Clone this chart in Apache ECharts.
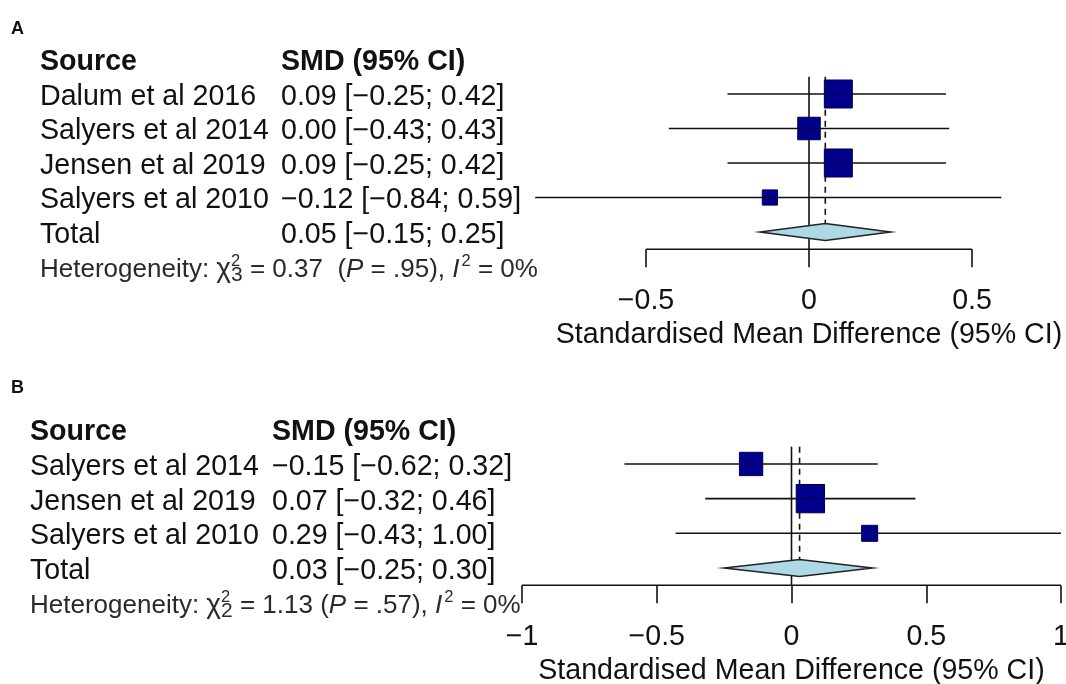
<!DOCTYPE html>
<html><head><meta charset="utf-8">
<script src="https://cdn.jsdelivr.net/npm/echarts@6/dist/echarts.min.js"></script>
<style>html,body{margin:0;padding:0;background:#fff}#c{width:1066px;height:684px}</style>
</head><body><div id="c"></div>
<script>
// ---------- Panel A data ----------
const studiesA = ['Dalum et al 2016', 'Salyers et al 2014', 'Jensen et al 2019', 'Salyers et al 2010'];
const smdA = [0.09, 0.00, 0.09, -0.12];
const lowerA = [-0.25, -0.43, -0.25, -0.84];
const upperA = [0.42, 0.43, 0.42, 0.59];
const weightA = [34, 22, 34, 10];
const totalA = [0.05, -0.15, 0.25];          // estimate, lower, upper
const hetA = ['3', '0.37', '.95', '0%'];       // df, chi2, P, I2
const ticksA = [-0.5, 0, 0.5];

// ---------- Panel B data ----------
const studiesB = ['Salyers et al 2014', 'Jensen et al 2019', 'Salyers et al 2010'];
const smdB = [-0.15, 0.07, 0.29];
const lowerB = [-0.62, -0.32, -0.43];
const upperB = [0.32, 0.46, 1.00];
const weightB = [34, 50, 16];
const totalB = [0.03, -0.25, 0.30];
const hetB = ['2', '1.13', '.57', '0%'];
const ticksB = [-1, -0.5, 0, 0.5, 1];

const headers = ['Source', 'SMD (95% CI)'];
const axisTitle = 'Standardised Mean Difference (95% CI)';
const panelLabels = ['A', 'B'];

// ---------- layout / style ----------
const FONT = '"Liberation Sans", Arial, Helvetica, sans-serif';
const INK = '#111';
const FS = 28.6;
const TEXT_DY = 3;
const layoutA = { rowH: 34.5, row0Y: 59.5, textLeft: 40, col2X: 281, zeroX: 809, unit: 326, xMin: -0.9, xMax: 0.7, maxSide: 28, labelTop: 20, hetGap: '\u00a0\u00a0' };
const layoutB = { rowH: 34.67, row0Y: 429.3, textLeft: 30, col2X: 272, zeroX: 791.5, unit: 269.5, xMin: -1, xMax: 1, maxSide: 28.3, labelTop: 379, hetGap: ' ' };

function fmt(v) { return (v < 0 ? '\u2212' : '') + Math.abs(v).toFixed(2); }
function ciText(e, l, u) { return fmt(e) + ' [' + fmt(l) + '; ' + fmt(u) + ']'; }
function tickFmt(v) { return (v < 0 ? '\u2212' : '') + String(Math.abs(v)); }

const option = {
  backgroundColor: '#fff',
  animation: false,
  title: [], grid: [], xAxis: [], yAxis: [], series: []
};

function addPanel(L, studies, smd, lo, hi, w, total, het, ticks, label) {
  const n = studies.length;
  const totalRow = n + 1, hetRow = n + 2, axisRow = n + 1.5;
  const gi = option.grid.length;      // text grid index
  const pi = gi + 1;                  // plot grid index

  option.title.push({ text: label, left: 11, top: L.labelTop, padding: 0,
    textStyle: { fontSize: 18, fontWeight: 'bold', color: INK, fontFamily: FONT } });

  // text grid
  option.grid.push({ left: L.textLeft, width: L.col2X - L.textLeft, top: L.row0Y, height: hetRow * L.rowH, outerBoundsMode: 'none' });
  option.xAxis.push({ gridIndex: gi, type: 'value', min: 0, max: 1, show: false });
  option.yAxis.push({ gridIndex: gi, type: 'value', min: 0, max: hetRow, inverse: true, show: false });

  // plot grid
  option.grid.push({ left: L.zeroX + L.xMin * L.unit, width: (L.xMax - L.xMin) * L.unit, top: L.row0Y, height: axisRow * L.rowH, outerBoundsMode: 'none' });
  const mid = (L.xMin + L.xMax) / 2;
  option.xAxis.push({
    gridIndex: pi, type: 'value', min: L.xMin, max: L.xMax, position: 'bottom',
    axisLine: { show: false, onZero: false }, splitLine: { show: false },
    axisTick: { show: true, customValues: ticks, length: 18, inside: false, lineStyle: { color: INK, width: 1.6 } },
    axisLabel: { show: true, customValues: ticks, formatter: tickFmt, margin: 37, fontSize: FS, color: INK, fontFamily: FONT },
    name: axisTitle, nameLocation: 'middle', nameGap: 71,
    nameTextStyle: { fontSize: FS, color: INK, fontFamily: FONT, padding: [0, 0, 0, -2 * mid * L.unit] }
  });
  option.yAxis.push({ gridIndex: pi, type: 'value', min: 0, max: axisRow, inverse: true, show: false });

  // text items
  const items = [];
  items.push({ col: 0, row: 0, text: headers[0], bold: true });
  items.push({ col: 1, row: 0, text: headers[1], bold: true });
  studies.forEach((s, i) => {
    items.push({ col: 0, row: i + 1, text: s });
    items.push({ col: 1, row: i + 1, text: ciText(smd[i], lo[i], hi[i]) });
  });
  items.push({ col: 0, row: totalRow, text: 'Total' });
  items.push({ col: 1, row: totalRow, text: ciText(total[0], total[1], total[2]) });
  items.push({ col: 0, row: hetRow, het: true,
    text: '{t|Heterogeneity: }{chi|\u03c7}{sp|2}{sb|' + het[0] + '}{t| = ' + het[1] + L.hetGap + '(}{it|P}{t|\u00a0= ' + het[2] + '), }{it|I}{s2|2}{t| = ' + het[3] + '}' });

  option.series.push({
    type: 'custom', xAxisIndex: gi, yAxisIndex: gi, silent: true, clip: false,
    data: items.map(it => [it.col, it.row]),
    renderItem: (params, api) => {
      const it = items[params.dataIndex];
      const p = api.coord([api.value(0), api.value(1)]);
      const style = { text: it.text, fill: INK, fontSize: FS, fontFamily: FONT,
        fontWeight: it.bold ? 'bold' : 'normal', verticalAlign: 'middle', align: 'left' };
      if (it.het) {
        const c = '#2a2a2a';
        style.fill = c;
        style.rich = {
          t: { fontSize: 26, fontFamily: FONT, fill: c },
          chi: { fontSize: 28, fontFamily: FONT, fill: c },
          it: { fontSize: 26, fontFamily: FONT, fontStyle: 'italic', fill: c },
          sp: { fontSize: 16.5, fontFamily: FONT, fill: c, width: 0.01, verticalAlign: 'top', padding: [0, 0, 14, 0] },
          sb: { fontSize: 21, fontFamily: FONT, fill: c, verticalAlign: 'bottom', padding: [12, 0, 0, 0] },
          s2: { fontSize: 16.5, fontFamily: FONT, fill: c, verticalAlign: 'top', padding: [0, 0, 14, 2] }
        };
      }
      return { type: 'text', x: p[0], y: p[1] + TEXT_DY, style: style };
    }
  });

  // axis line
  option.series.push({
    type: 'line', xAxisIndex: pi, yAxisIndex: pi, silent: true, symbol: 'none',
    data: [[ticks[0], axisRow], [ticks[ticks.length - 1], axisRow]],
    lineStyle: { color: INK, width: 1.6 }
  });

  // reference lines: solid at 0, dashed at pooled estimate
  const diamondHalf = 8.5;
  option.series.push({
    type: 'custom', xAxisIndex: pi, yAxisIndex: pi, silent: true, clip: false,
    data: [[0, 0.5, axisRow, 0], [total[0], 0.5, totalRow, 1]],
    renderItem: (params, api) => {
      const a = api.coord([api.value(0), api.value(1)]);
      const b = api.coord([api.value(0), api.value(2)]);
      const dashed = api.value(3) === 1;
      return { type: 'line', shape: { x1: a[0], y1: a[1], x2: b[0], y2: b[1] - (dashed ? diamondHalf : 0) },
        style: { stroke: INK, lineWidth: 1.6, lineDash: dashed ? [6, 5] : null } };
    }
  });

  // study CIs and squares
  const maxW = Math.max.apply(null, w);
  option.series.push({
    type: 'custom', xAxisIndex: pi, yAxisIndex: pi, silent: true, clip: false,
    data: studies.map((s, i) => [smd[i], lo[i], hi[i], i + 1, w[i]]),
    renderItem: (params, api) => {
      const row = api.value(3);
      const pe = api.coord([api.value(0), row]);
      const pl = api.coord([api.value(1), row]);
      const ph = api.coord([api.value(2), row]);
      const s = L.maxSide * Math.sqrt(api.value(4) / maxW);
      return { type: 'group', children: [
        { type: 'line', shape: { x1: pl[0], y1: pl[1], x2: ph[0], y2: ph[1] }, style: { stroke: INK, lineWidth: 1.6 } },
        { type: 'rect', shape: { x: pe[0] - s / 2, y: pe[1] - s / 2, width: s, height: s }, style: { fill: '#00008B', stroke: '#00004a', lineWidth: 1 } },
        { type: 'line', shape: { x1: pe[0] - s / 2, y1: pe[1], x2: pe[0] + s / 2, y2: pe[1] }, style: { stroke: '#000033', lineWidth: 1, opacity: 0.6 } },
        { type: 'line', shape: { x1: pe[0], y1: pe[1] - 3, x2: pe[0], y2: pe[1] + 3 }, style: { stroke: '#000033', lineWidth: 1, opacity: 0.6 } }
      ] };
    }
  });

  // pooled diamond
  option.series.push({
    type: 'custom', xAxisIndex: pi, yAxisIndex: pi, silent: true, clip: false,
    data: [[total[0], total[1], total[2], totalRow]],
    renderItem: (params, api) => {
      const row = api.value(3);
      const pe = api.coord([api.value(0), row]);
      const pl = api.coord([api.value(1), row]);
      const ph = api.coord([api.value(2), row]);
      return { type: 'polygon', shape: { points: [[pl[0], pl[1]], [pe[0], pe[1] - diamondHalf], [ph[0], ph[1]], [pe[0], pe[1] + diamondHalf]] },
        style: { fill: '#ADD8E6', stroke: '#222', lineWidth: 1.6 } };
    }
  });
}

addPanel(layoutA, studiesA, smdA, lowerA, upperA, weightA, totalA, hetA, ticksA, panelLabels[0]);
addPanel(layoutB, studiesB, smdB, lowerB, upperB, weightB, totalB, hetB, ticksB, panelLabels[1]);

const chart = echarts.init(document.getElementById('c'), null, { renderer: 'canvas' });
chart.setOption(option);
</script>
</body></html>
